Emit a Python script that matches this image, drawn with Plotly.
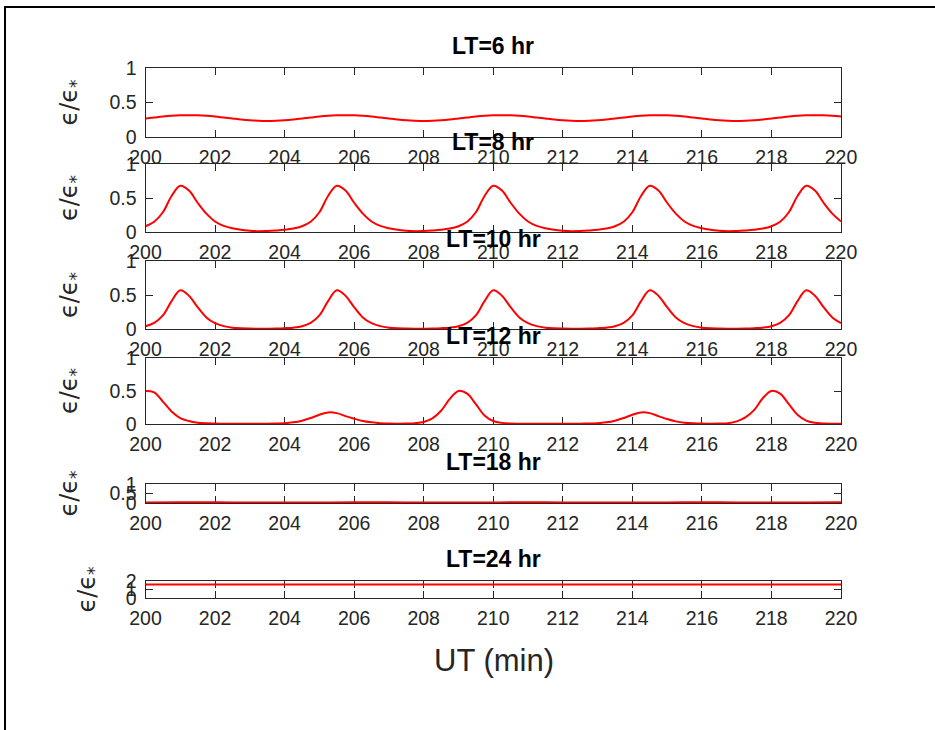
import plotly.graph_objects as go

# ---------------- data ----------------
ut = [200 + 0.25 * i for i in range(81)]          # UT grid (min)
ut_coarse = [200 + i for i in range(21)]

titles = ["LT=6 hr", "LT=8 hr", "LT=10 hr", "LT=12 hr", "LT=18 hr", "LT=24 hr"]

lt6 = [0.268, 0.282, 0.296, 0.307, 0.314, 0.317, 0.314, 0.307, 0.296, 0.282, 0.268, 0.254, 0.243, 0.236, 0.233, 0.236, 0.243, 0.254,
       0.268, 0.282, 0.296, 0.307, 0.314, 0.317, 0.314, 0.307, 0.296, 0.282, 0.268, 0.254, 0.243, 0.236, 0.233, 0.236, 0.243, 0.254,
       0.268, 0.282, 0.296, 0.307, 0.314, 0.317, 0.314, 0.307, 0.296, 0.282, 0.268, 0.254, 0.243, 0.236, 0.233, 0.236, 0.243, 0.254,
       0.268, 0.282, 0.296, 0.307, 0.314, 0.317, 0.314, 0.307, 0.296, 0.282, 0.268, 0.254, 0.243, 0.236, 0.233, 0.236, 0.243, 0.254,
       0.268, 0.282, 0.296, 0.307, 0.314, 0.317, 0.314, 0.307, 0.296]

lt8 = [0.085, 0.15, 0.29, 0.53, 0.68, 0.61, 0.43, 0.27, 0.155, 0.09, 0.055, 0.033, 0.02, 0.012, 0.015, 0.022, 0.032, 0.05,
       0.085, 0.15, 0.29, 0.53, 0.68, 0.61, 0.43, 0.27, 0.155, 0.09, 0.055, 0.033, 0.02, 0.012, 0.015, 0.022, 0.032, 0.05,
       0.085, 0.15, 0.29, 0.53, 0.68, 0.61, 0.43, 0.27, 0.155, 0.09, 0.055, 0.033, 0.02, 0.012, 0.015, 0.022, 0.032, 0.05,
       0.085, 0.15, 0.29, 0.53, 0.68, 0.61, 0.43, 0.27, 0.155, 0.09, 0.055, 0.033, 0.02, 0.012, 0.015, 0.022, 0.032, 0.05,
       0.085, 0.15, 0.29, 0.53, 0.68, 0.61, 0.43, 0.27, 0.155]

lt10 = [0.04, 0.09, 0.20, 0.41, 0.57, 0.49, 0.32, 0.17, 0.085, 0.042, 0.02, 0.01, 0.006, 0.004, 0.005, 0.007, 0.012, 0.02,
        0.04, 0.09, 0.20, 0.41, 0.57, 0.49, 0.32, 0.17, 0.085, 0.042, 0.02, 0.01, 0.006, 0.004, 0.005, 0.007, 0.012, 0.02,
        0.04, 0.09, 0.20, 0.41, 0.57, 0.49, 0.32, 0.17, 0.085, 0.042, 0.02, 0.01, 0.006, 0.004, 0.005, 0.007, 0.012, 0.02,
        0.04, 0.09, 0.20, 0.41, 0.57, 0.49, 0.32, 0.17, 0.085, 0.042, 0.02, 0.01, 0.006, 0.004, 0.005, 0.007, 0.012, 0.02,
        0.04, 0.09, 0.20, 0.41, 0.57, 0.49, 0.32, 0.17, 0.085]

lt12 = [0.50, 0.48, 0.34, 0.19, 0.09, 0.045, 0.02, 0.01,
        0.006, 0.004, 0.003, 0.003, 0.003, 0.004, 0.005, 0.008,
        0.012, 0.025, 0.05, 0.09, 0.14, 0.175, 0.165, 0.12,
        0.08, 0.045, 0.025, 0.012, 0.006, 0.005, 0.006, 0.012,
        0.03, 0.085, 0.20, 0.38, 0.50, 0.46, 0.30, 0.13,
        0.045, 0.017, 0.008, 0.005, 0.003, 0.003, 0.003, 0.003,
        0.003, 0.004, 0.005, 0.008, 0.012, 0.025, 0.05, 0.09,
        0.14, 0.175, 0.165, 0.12, 0.075, 0.04, 0.02, 0.01,
        0.006, 0.005, 0.006, 0.012, 0.04, 0.10, 0.21, 0.39,
        0.50, 0.46, 0.30, 0.14, 0.05, 0.018, 0.008, 0.005,
        0.003]

lt18 = [0.030, 0.036, 0.034, 0.027, 0.024, 0.030, 0.036, 0.033, 0.026, 0.024, 0.031,
        0.036, 0.032, 0.026, 0.025, 0.032, 0.036, 0.031, 0.025, 0.026, 0.033]

lt24 = [1.60, 1.60, 1.60, 1.60, 1.60, 1.60, 1.60, 1.60, 1.60, 1.60, 1.60,
        1.60, 1.60, 1.60, 1.60, 1.60, 1.60, 1.60, 1.60, 1.60, 1.60]

series_x = [ut, ut, ut, ut, ut_coarse, ut_coarse]
series_y = [lt6, lt8, lt10, lt12, lt18, lt24]
y_ranges = [[0, 1], [0, 1], [0, 1], [0, 1], [0, 1], [0, 2]]
y_dticks = [0.5, 0.5, 0.5, 0.5, 0.5, 1]

# ---------------- layout (pixel geometry) ----------------
W, H = 935, 730
X_LEFT, X_RIGHT = 145.5, 841.0
panels_px = [(68, 137), (164, 232), (261, 329), (358, 424), (484, 503), (581, 598)]
ylabel_x = [70, 70, 70, 70, 70, 88]

AX = "#262626"
FONT = "Liberation Sans"


def px_x(p):
    return p / W


def px_y(p):
    return 1 - p / H


fig = go.Figure()
annotations = []
layout_axes = {}

for i in range(6):
    n = "" if i == 0 else str(i + 1)
    top, bot = panels_px[i]
    fig.add_trace(go.Scatter(
        x=series_x[i], y=series_y[i], mode="lines",
        line=dict(color="#ff0000", width=2, shape="spline", smoothing=1.0),
        xaxis="x" + n, yaxis="y" + n, showlegend=False, hoverinfo="skip"))

    common = dict(showline=True, linecolor=AX, linewidth=1, mirror="ticks",
                  ticks="inside", ticklen=7, tickcolor=AX, tickwidth=1,
                  showgrid=False, zeroline=False, layer="below traces",
                  automargin=False,
                  tickfont=dict(family=FONT, size=19.5, color=AX))
    layout_axes["xaxis" + n] = dict(
        domain=[px_x(X_LEFT), px_x(X_RIGHT)], anchor="y" + n,
        range=[200, 220], tick0=200, dtick=2, ticklabelstandoff=3, **common)
    layout_axes["yaxis" + n] = dict(
        domain=[px_y(bot), px_y(top)], anchor="x" + n,
        range=y_ranges[i], tick0=0, dtick=y_dticks[i], ticklabelstandoff=4, **common)

    annotations.append(dict(
        text="<b>" + titles[i] + "</b>", xref="paper", yref="paper",
        x=px_x((X_LEFT + X_RIGHT) / 2), y=px_y(top - 22), xanchor="center", yanchor="middle",
        showarrow=False, font=dict(family=FONT, size=23, color="#000000")))
    annotations.append(dict(
        text="ϵ/ϵ<sub>*</sub>", xref="paper", yref="paper",
        x=px_x(ylabel_x[i]), y=px_y((top + bot) / 2), xanchor="center", yanchor="middle",
        textangle=-90, showarrow=False, font=dict(family="DejaVu Sans", size=24, color=AX)))

annotations.append(dict(
    text="UT (min)", xref="paper", yref="paper",
    x=px_x(494), y=px_y(660), xanchor="center", yanchor="middle",
    showarrow=False, font=dict(family=FONT, size=31, color=AX)))

fig.update_layout(
    width=W, height=H, autosize=False,
    margin=dict(l=0, r=0, t=0, b=0),
    paper_bgcolor="white", plot_bgcolor="white",
    annotations=annotations,
    shapes=[dict(type="rect", xref="paper", yref="paper",
                 x0=px_x(5), y0=-0.05, x1=1.05, y1=px_y(7),
                 line=dict(color="black", width=2))],
    **layout_axes)

fig.write_html("out.html",
               config={"displayModeBar": False},
               post_script="document.body.style.margin='0px';document.body.style.overflow='hidden';")
